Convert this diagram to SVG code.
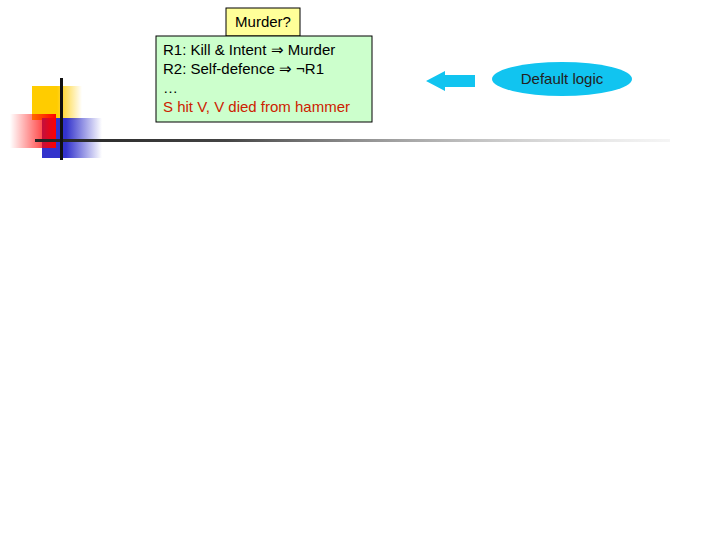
<svg xmlns="http://www.w3.org/2000/svg" width="720" height="540" viewBox="0 0 720 540">
<defs>
<linearGradient id="gy" x1="0" x2="1"><stop offset="0" stop-color="#ffcc00"/><stop offset="0.5" stop-color="#ffcc00"/><stop offset="1" stop-color="#ffcc00" stop-opacity="0"/></linearGradient>
<linearGradient id="gr" x1="0" x2="1"><stop offset="0" stop-color="#ff0000" stop-opacity="0"/><stop offset="1" stop-color="#ff0000"/></linearGradient>
<linearGradient id="gb" x1="0" x2="1"><stop offset="0" stop-color="#3333cc"/><stop offset="0.4" stop-color="#3333cc"/><stop offset="1" stop-color="#3333cc" stop-opacity="0"/></linearGradient>
<linearGradient id="gl" x1="0" x2="1"><stop offset="0" stop-color="#222"/><stop offset="0.3" stop-color="#444"/><stop offset="1" stop-color="#ddd" stop-opacity="0.3"/></linearGradient>
<style>text{font-family:"Liberation Sans",Arial,sans-serif;font-size:15px;fill:#000}</style>
</defs>
<g id="decor">
<rect x="32" y="86" width="50" height="34" fill="url(#gy)"/>
<rect x="42" y="118" width="60" height="40" fill="url(#gb)"/>
<rect x="10" y="114" width="46" height="34" fill="url(#gr)"/>
<rect x="35" y="139" width="635" height="3" fill="url(#gl)"/>
<rect x="60" y="78" width="3" height="82" fill="#111"/>
</g>
<g id="murder"><rect x="226" y="8" width="74" height="28" fill="#ffff99" stroke="#000"/><text x="263" y="27" text-anchor="middle">Murder?</text></g>
<g id="rules"><rect x="156" y="36" width="216" height="86" fill="#ccffcc" stroke="#000"/>
<text x="163" y="55">R1: Kill &amp; Intent ⇒ Murder</text>
<text x="163" y="74">R2: Self-defence ⇒ ¬R1</text>
<text x="163" y="93">…</text>
<text x="163" y="112" style="fill:#cc2200">S hit V, V died from hammer</text></g>
<g id="connectors"><polygon points="426,81 445,71 445,75 475,75 475,87 445,87 445,91" fill="#11c4f0"/></g>
<g id="default"><ellipse cx="562" cy="79" rx="70" ry="17" fill="#11c4f0"/><text x="562" y="84" text-anchor="middle" style="fill:#222">Default logic</text></g>
</svg>
